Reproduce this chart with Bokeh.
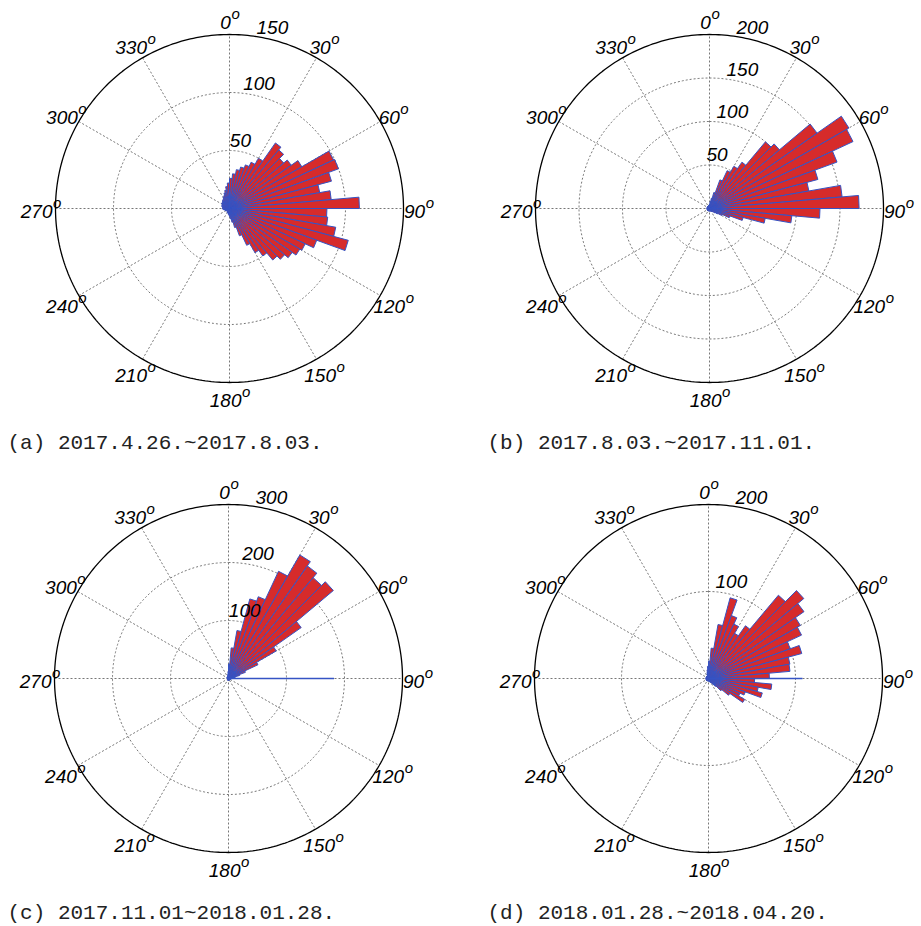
import math
from bokeh.plotting import figure
from bokeh.models import Range1d
from bokeh.embed import file_html
from bokeh.resources import INLINE
from bokeh.core.properties import value

# ---------------- data ----------------
bin_width = 5
bin_starts = list(range(0, 360, bin_width))  # degrees, clockwise from north

counts_a = [26, 30, 34, 37, 40, 44, 50, 69, 66, 61, 65, 72, 99, 100, 91, 79, 88, 112,
            84, 85, 93, 106, 80, 72, 70, 66, 62, 58, 50, 44, 35, 25, 17, 12, 9, 7,
            6, 5, 5, 4, 4, 4, 3, 3, 3, 3, 3, 3, 4, 4, 4, 5, 5, 6,
            6, 6, 6, 7, 7, 7, 8, 8, 8, 9, 9, 10, 11, 12, 14, 16, 19, 22]
counts_b = [5, 8, 12, 19, 35, 48, 56, 65, 100, 105, 151, 185, 182, 156, 129, 116, 153, 172,
            127, 95, 65, 40, 25, 16, 11, 8, 6, 5, 4, 4, 4, 3, 3, 3, 3, 3,
            3, 3, 3, 3, 3, 3, 3, 3, 3, 3, 3, 3, 3, 3, 3, 3, 3, 3,
            3, 3, 3, 3, 3, 3, 3, 3, 3, 3, 3, 3, 3, 3, 3, 4, 4, 4]
counts_c = [25, 53, 84, 142, 150, 204, 246, 237, 227, 236, 153, 95, 56, 31, 20, 12, 8, 6,
            5, 4, 4, 3, 3, 3, 3, 3, 3, 3, 3, 3, 3, 3, 3, 3, 3, 3,
            3, 3, 3, 3, 3, 3, 2, 2, 2, 2, 2, 2, 2, 2, 2, 2, 2, 2,
            2, 2, 2, 3, 3, 3, 3, 3, 3, 3, 3, 3, 3, 3, 4, 5, 7, 12]
counts_d = [20, 35, 63, 96, 77, 69, 60, 74, 125, 143, 134, 122, 118, 100, 111, 95, 94, 70,
            53, 73, 58, 64, 45, 40, 48, 30, 20, 12, 8, 6, 5, 4, 4, 3, 3, 3,
            3, 3, 3, 3, 3, 3, 3, 3, 3, 3, 3, 3, 3, 3, 3, 3, 3, 3,
            3, 3, 3, 3, 3, 3, 3, 3, 3, 3, 3, 3, 3, 3, 5, 7, 10, 14]

# single blue spike drawn along 90 degrees (panels c and d)
spike_90 = [0, 0, 182, 108]

r_max = [150, 200, 300, 200]
ring_ticks = [[50, 100, 150], [50, 100, 150, 200], [100, 200, 300], [100, 200]]
angle_ticks = list(range(0, 360, 30))

captions = ["(a) 2017.4.26.~2017.8.03.",
            "(b) 2017.8.03.~2017.11.01.",
            "(c) 2017.11.01~2018.01.28.",
            "(d) 2018.01.28.~2018.04.20."]

all_counts = [counts_a, counts_b, counts_c, counts_d]

# ---------------- layout ----------------
W, H = 921, 926
centers = [(229, 208), (709, 208), (228, 678), (708, 678)]
caption_pos = [(7, 443), (487, 443), (7, 913), (487, 913)]
R = 174.0          # outer circle radius (px)
LABEL_R = 189.0    # angle label radius (px)

RED = "#d62b2b"
BLUE = "#3553c4"
GRID = "#777777"

p = figure(width=W, height=H, x_range=Range1d(0, W), y_range=Range1d(H, 0),
           output_backend="svg", toolbar_location=None, min_border=0,
           x_axis_location=None, y_axis_location=None)
p.grid.visible = False
p.outline_line_color = None
p.background_fill_color = "white"
p.border_fill_color = "white"


def pt(cx, cy, r, deg):
    a = math.radians(deg)
    return cx + r * math.sin(a), cy - r * math.cos(a)


circ = [i * 1.0 for i in range(0, 361)]

for k in range(4):
    cx, cy = centers[k]
    s = R / r_max[k]

    # spokes (dotted)
    sx0, sy0, sx1, sy1 = [], [], [], []
    for a in range(0, 180, 30):
        x0, y0 = pt(cx, cy, R, a + 180)
        x1, y1 = pt(cx, cy, R, a)
        sx0.append(x0); sy0.append(y0); sx1.append(x1); sy1.append(y1)
    p.segment(sx0, sy0, sx1, sy1, line_color=GRID, line_width=1, line_dash="2 2")

    # rings
    for t in ring_ticks[k]:
        xs = [pt(cx, cy, t * s, d)[0] for d in circ]
        ys = [pt(cx, cy, t * s, d)[1] for d in circ]
        if t < r_max[k]:
            p.line(xs, ys, line_color=GRID, line_width=1, line_dash="2 2")
        else:
            p.line(xs, ys, line_color="black", line_width=1.3)

    # rose bars
    bxs, bys = [], []
    for start, v in zip(bin_starts, all_counts[k]):
        x1, y1 = pt(cx, cy, v * s, start)
        x2, y2 = pt(cx, cy, v * s, start + bin_width)
        bxs.append([cx, x1, x2])
        bys.append([cy, y1, y2])
    p.patches(bxs, bys, fill_color=RED, line_color=BLUE, line_width=1)

    if spike_90[k] > 0:
        ex, ey = pt(cx, cy, spike_90[k] * s, 90)
        p.segment([cx], [cy], [ex], [ey], line_color=BLUE, line_width=1.3)

    # ring labels
    tx, ty, tt = [], [], []
    for t in ring_ticks[k]:
        rp = t * s
        tx.append(cx - 13 + 0.23 * rp)
        ty.append(cy - rp * 0.974 - 12)
        tt.append(str(t))
    p.text(tx, ty, text=tt, text_font=value("Liberation Sans"), text_font_style="italic",
           text_font_size="19px", text_align="left", text_baseline="alphabetic",
           text_color="black")

    # angle labels with superscript o
    nx, ny, nt, ox, oy = [], [], [], [], []
    for a in angle_ticks:
        lx, ly = pt(cx, cy, LABEL_R, a)
        num = str(a)
        num_w = len(num) * 0.556 * 19
        o_w = 0.556 * 14
        jx = lx - (num_w + o_w) / 2 + num_w
        nx.append(jx); ny.append(ly + 3); nt.append(num)
        ox.append(jx + 0.5); oy.append(ly - 6)
    p.text(nx, ny, text=nt, text_font=value("Liberation Sans"), text_font_style="italic",
           text_font_size="19px", text_align="right", text_baseline="middle",
           text_color="black")
    p.text(ox, oy, text=["o"] * len(ox), text_font=value("Liberation Sans"),
           text_font_style="italic", text_font_size="15px", text_align="left",
           text_baseline="middle", text_color="black")

    # caption
    p.text([caption_pos[k][0]], [caption_pos[k][1]], text=[captions[k]],
           text_font=value("Liberation Mono"), text_font_size="21px",
           text_align="left", text_baseline="middle", text_color="#222222")

open("out.html", "w").write(file_html(p, INLINE))
